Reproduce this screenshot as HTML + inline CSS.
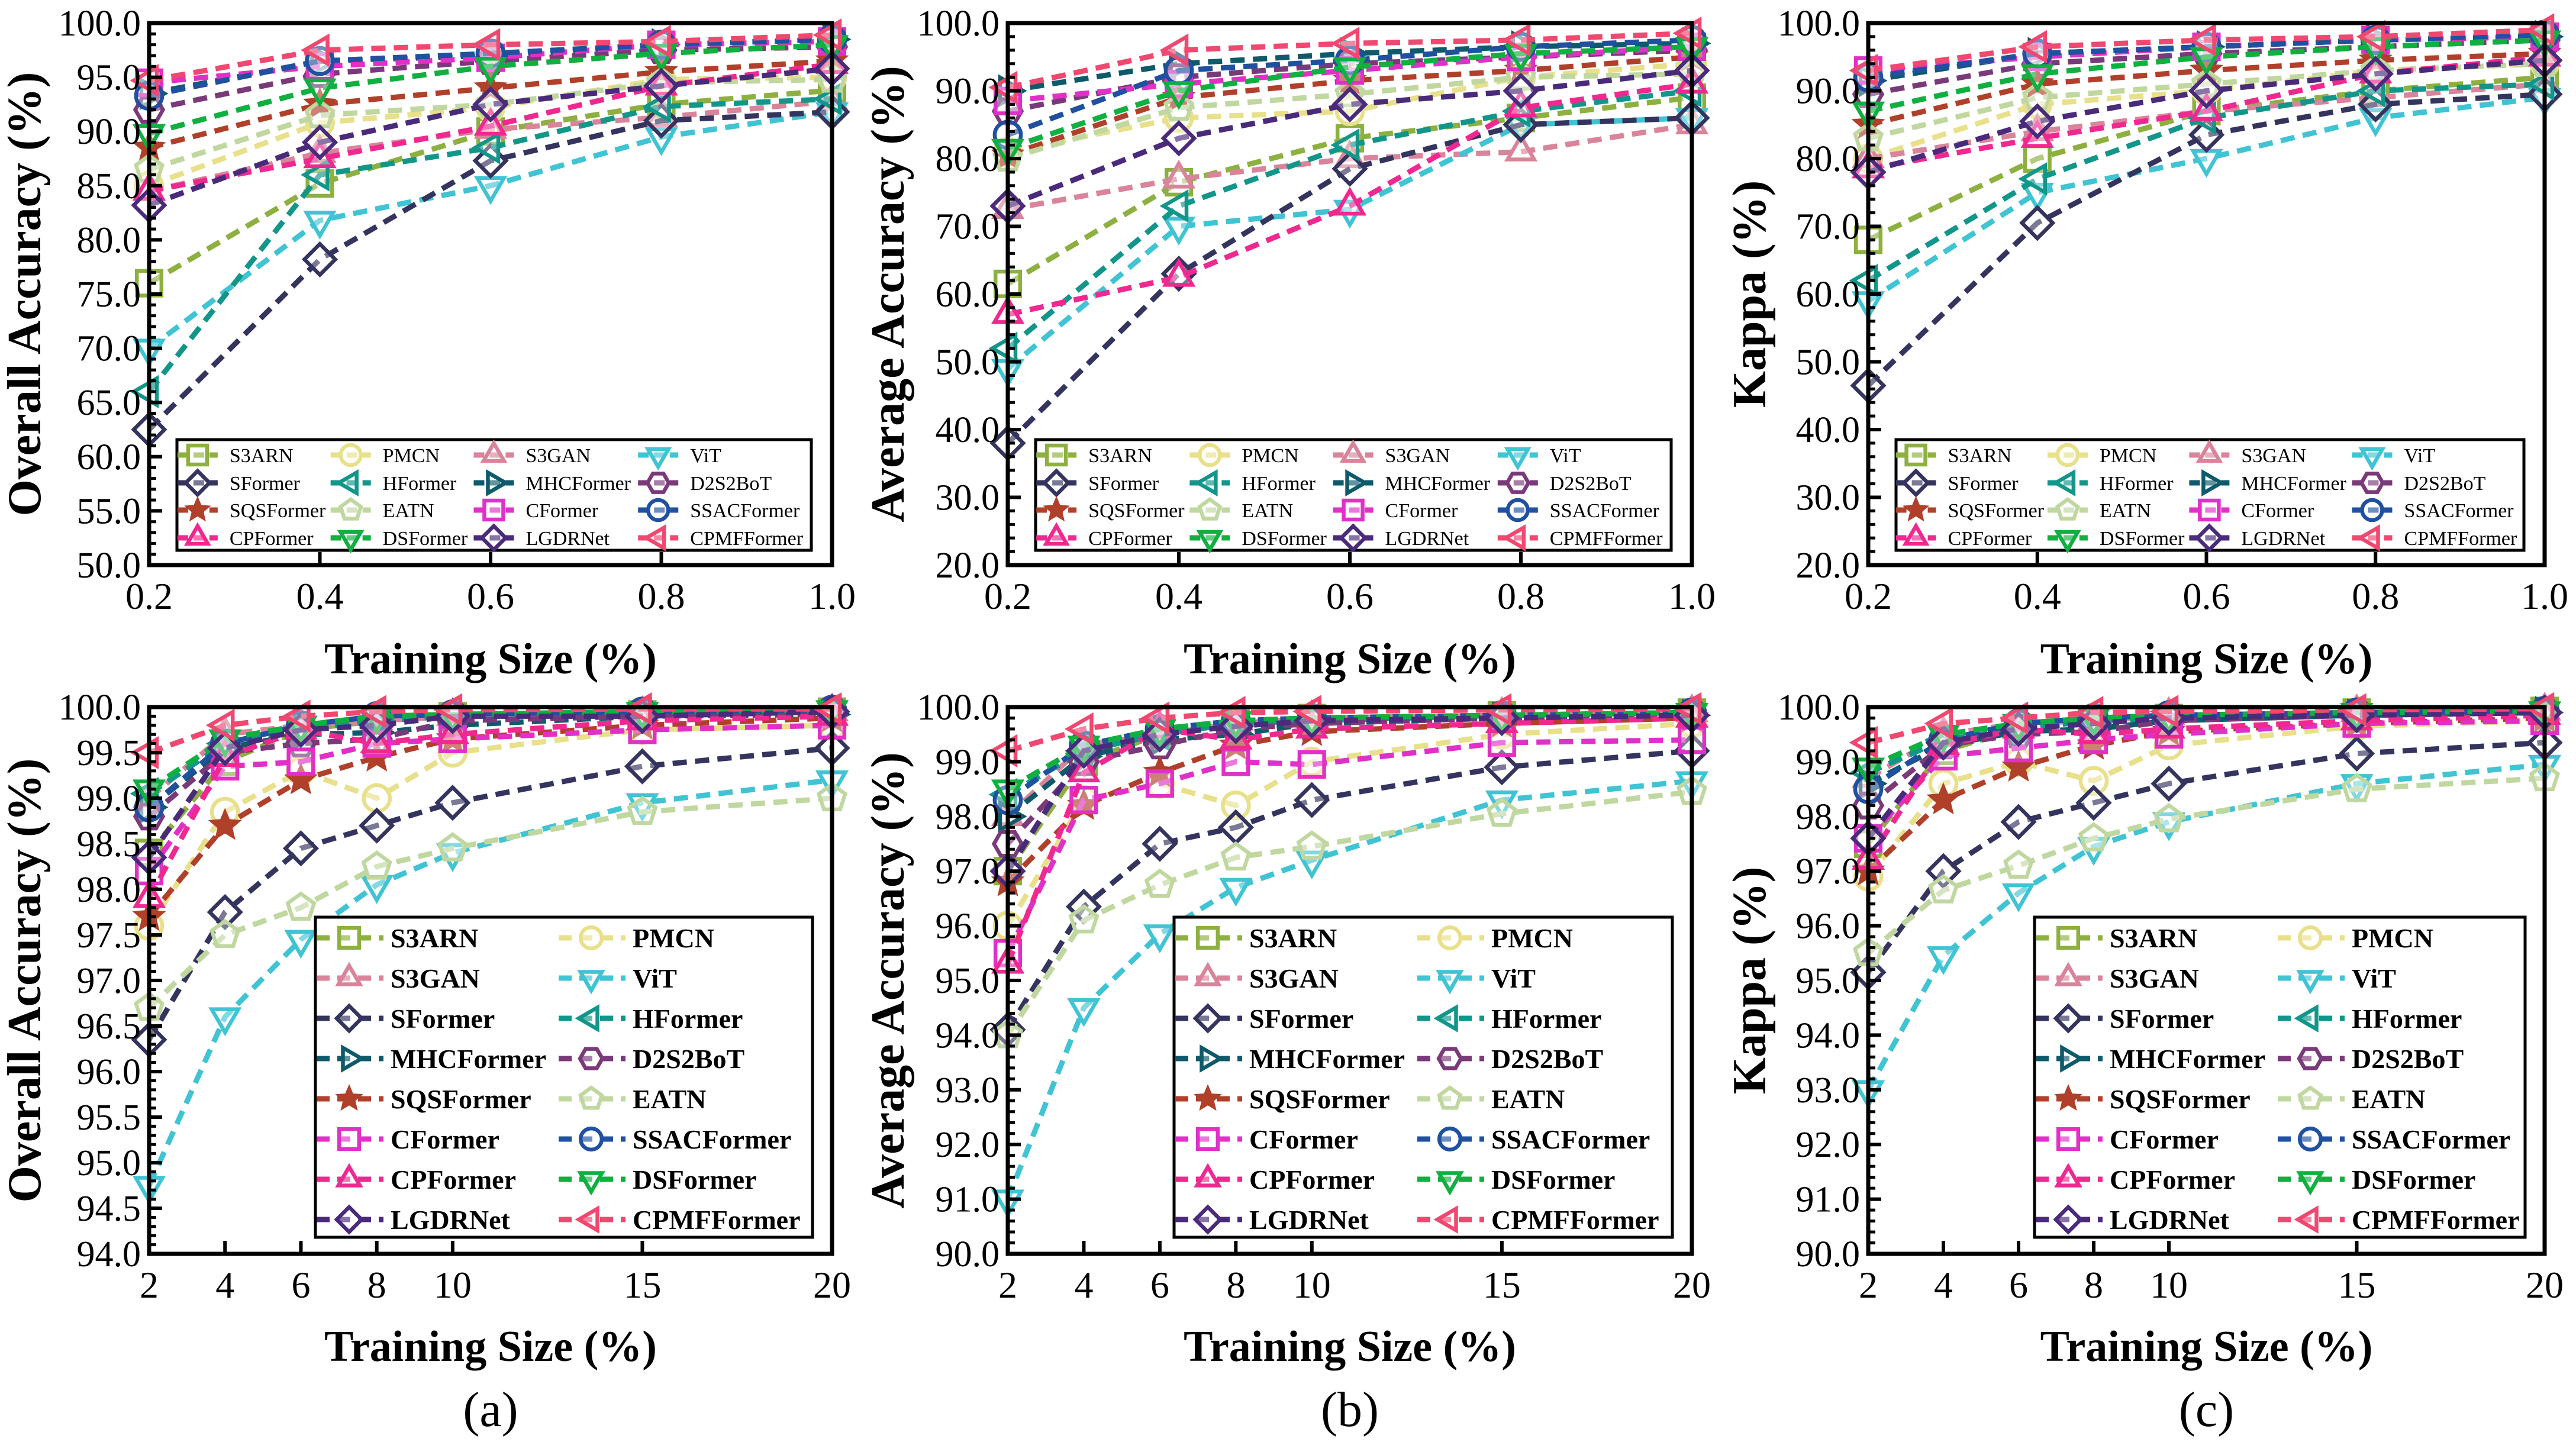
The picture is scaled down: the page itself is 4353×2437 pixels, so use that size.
<!DOCTYPE html>
<html><head><meta charset="utf-8"><style>
html,body{margin:0;padding:0;background:#fff;}
svg{display:block;}
text{font-family:"Liberation Serif","Times New Roman",Times,serif;}
</style></head><body>
<svg id="fig" width="4353" height="2437" viewBox="0 0 4353 2437" xmlns="http://www.w3.org/2000/svg"></svg>
<script>
const names=["S3ARN","PMCN","S3GAN","ViT","SFormer","HFormer","MHCFormer","D2S2BoT","SQSFormer","EATN","CFormer","SSACFormer","CPFormer","DSFormer","LGDRNet","CPMFFormer"];
const colors=["#8db040","#e8e08a","#d9849a","#40c4d4","#34345e","#12968a","#0e5a6a","#7a3a7a","#b0402a","#c0d8a0","#e030c8","#2050a0","#f02890","#10b040","#4a2a7a","#f04870"];
const markers=["square","circle","tri-up","tri-down","diamond","tri-left","tri-right","hexagon","star","pentagon","square","circle","tri-up","tri-down","diamond","tri-left"];
const xTop=[0.2,0.4,0.6,0.8,1.0];
const xBot=[2,4,6,8,10,15,20];
const oaTop=[[76,85.2,90,92.5,93.8],[85,90.8,92.2,94.8,95],[84.5,88,90.2,91.3,92.8],[70,81.8,85,89.5,91.8],[62.5,78.2,87.3,91,91.8],[66,86,88.5,92.3,93],[93.5,96.5,97,98,98.5],[92,95.3,96.5,97.5,97.8],[88.5,92.5,94,95.5,96.5],[86.5,91.5,92.5,94.5,94.8],[94.5,96,96.8,98,98.3],[93.3,96.5,97.2,98,98.5],[84.5,87.5,90.5,94.2,96.2],[89.8,94,96,97.2,98],[83.2,89,92.5,94.2,95.8],[94.7,97.5,98,98.3,98.9]];
const aaTop=[[61.5,76.5,83,86,89],[81,86,87,92,94],[72.5,77,80,81,85],[49,70,72.5,85,86],[38,63,78.5,85,86],[52,73,82,87,90],[90,94,95.5,96.5,97],[87,92,94,95,96],[80.5,89,91.5,93,95],[80,87.5,89.5,92,92.5],[88.5,91,93,95,96.5],[83.5,93,94.5,96.5,97.5],[57,62.5,73,87.5,91],[81.5,90,93.5,95.5,96.5],[73,83,88,90,93],[90.5,96,97,97.5,98.5]];
const kaTop=[[68,80,87,90,92],[80,88,90,93,94],[80,84,87,89,91],[59,75,80,86,89],[46.5,70.5,83.5,88,89.5],[62,77,86,90,91],[91.5,95.5,96.5,97.5,98],[89.5,94,95.5,96.5,97.5],[85,91,93,94.5,95.5],[83,89,91,93,94],[93,95,96.5,97.5,98],[92,95.5,96.5,97.5,98.3],[78.5,83,87,92.5,95],[87,92.5,95,96.5,97.5],[78,85.5,90,92.5,94.5],[93,96.5,97.5,98,99]];
const oaBot=[[98.4,99.4,99.75,99.85,99.9,99.92,99.95],[97.6,98.85,99.3,99.0,99.5,99.75,99.8],[99.0,99.7,99.8,99.85,99.9,99.92,99.95],[94.75,96.6,97.45,98.05,98.4,98.95,99.2],[96.35,97.75,98.45,98.7,98.95,99.35,99.55],[99.05,99.6,99.75,99.85,99.9,99.92,99.95],[98.9,99.55,99.7,99.72,99.8,99.9,99.92],[98.8,99.5,99.6,99.65,99.85,99.9,99.92],[97.7,98.7,99.2,99.45,99.65,99.8,99.88],[96.7,97.5,97.8,98.25,98.45,98.85,99.0],[98.2,99.35,99.4,99.6,99.65,99.75,99.8],[98.9,99.6,99.8,99.9,99.92,99.95,99.97],[97.9,99.45,99.75,99.6,99.7,99.85,99.9],[99.1,99.65,99.8,99.9,99.92,99.95,99.97],[98.35,99.55,99.75,99.8,99.9,99.9,99.95],[99.5,99.8,99.9,99.95,99.97,99.98,99.98]];
const aaBot=[[97.0,99.0,99.5,99.7,99.8,99.85,99.9],[96.0,98.3,98.6,98.2,99.0,99.5,99.7],[98.0,99.3,99.5,99.7,99.8,99.85,99.9],[91.0,94.5,95.85,96.7,97.2,98.3,98.65],[94.1,96.35,97.5,97.8,98.3,98.9,99.2],[98.4,99.2,99.5,99.7,99.75,99.85,99.9],[98.0,99.1,99.4,99.5,99.7,99.8,99.85],[97.5,99.0,99.3,99.6,99.7,99.8,99.85],[96.8,98.2,98.8,99.3,99.55,99.7,99.8],[94.0,96.1,96.75,97.25,97.45,98.05,98.45],[95.5,98.3,98.6,99.0,98.95,99.35,99.4],[98.3,99.3,99.6,99.75,99.8,99.85,99.9],[95.3,98.8,99.6,99.4,99.6,99.7,99.8],[98.5,99.3,99.6,99.75,99.8,99.85,99.9],[97.0,99.2,99.5,99.65,99.75,99.8,99.85],[99.2,99.6,99.8,99.9,99.92,99.95,99.97]];
const kaBot=[[97.5,99.2,99.6,99.7,99.8,99.9,99.93],[96.9,98.6,99.0,98.65,99.3,99.65,99.75],[98.7,99.5,99.7,99.75,99.85,99.9,99.93],[93.0,95.45,96.6,97.45,97.9,98.6,98.95],[95.15,97.0,97.9,98.25,98.6,99.15,99.35],[98.8,99.4,99.6,99.75,99.8,99.85,99.9],[98.6,99.3,99.55,99.6,99.75,99.85,99.9],[98.2,99.3,99.5,99.55,99.75,99.85,99.9],[97.0,98.3,98.9,99.3,99.55,99.7,99.8],[95.5,96.65,97.1,97.6,97.95,98.5,98.7],[97.6,99.1,99.25,99.4,99.5,99.7,99.75],[98.5,99.4,99.7,99.8,99.85,99.9,99.93],[97.2,99.3,99.6,99.5,99.6,99.75,99.85],[98.9,99.5,99.7,99.8,99.85,99.9,99.93],[97.6,99.35,99.6,99.7,99.8,99.85,99.9],[99.35,99.7,99.8,99.9,99.92,99.95,99.97]];
const topLegendOrder=[0,1,2,3,4,5,6,7,8,9,10,11,12,13,14,15];
const botLegendOrder=[0,2,4,6,8,10,12,14,1,3,5,7,9,11,13,15];

const NS="http://www.w3.org/2000/svg";
const FF='"Liberation Serif", "Times New Roman", Times, serif';
const svg=document.getElementById("fig");
function mk(tag,attrs,parent){const e=document.createElementNS(NS,tag);for(const k in attrs)e.setAttribute(k,attrs[k]);(parent||svg).appendChild(e);return e;}
function txt(s,attrs,parent){attrs["font-family"]=FF;const e=mk("text",attrs,parent);e.textContent=s;return e;}

function marker(g,type,cx,cy,r,col){
  let el;const sw=6.5;
  const poly=(pts)=>mk("polygon",{points:pts.map(p=>p.join(",")).join(" "),fill:"#fff","fill-opacity":"0.35",stroke:col,"stroke-width":sw},g);
  const reg=(n,rot,rr)=>{const p=[];for(let i=0;i<n;i++){const a=rot+i*2*Math.PI/n;p.push([cx+rr*Math.cos(a),cy+rr*Math.sin(a)]);}return p;};
  if(type==="square")el=mk("rect",{x:cx-r*0.8,y:cy-r*0.8,width:r*1.6,height:r*1.6,fill:"#fff","fill-opacity":"0.35",stroke:col,"stroke-width":sw},g);
  else if(type==="circle")el=mk("circle",{cx:cx,cy:cy,r:r*0.85,fill:"#fff","fill-opacity":"0.35",stroke:col,"stroke-width":sw},g);
  else if(type==="tri-up")el=poly(reg(3,-Math.PI/2,r));
  else if(type==="tri-down")el=poly(reg(3,Math.PI/2,r));
  else if(type==="tri-left")el=poly(reg(3,Math.PI,r));
  else if(type==="tri-right")el=poly(reg(3,0,r));
  else if(type==="diamond")el=poly(reg(4,0,r));
  else if(type==="hexagon")el=poly(reg(6,0,r*0.9));
  else if(type==="pentagon")el=poly(reg(5,-Math.PI/2,r*0.9));
  else if(type==="star"){const p=[];for(let i=0;i<10;i++){const a=-Math.PI/2+i*Math.PI/5;const rr=i%2?r*0.45:r;p.push([cx+rr*Math.cos(a),cy+rr*Math.sin(a)]);}el=mk("polygon",{points:p.map(q=>q.join(",")).join(" "),fill:col,stroke:col,"stroke-width":3},g);}
  return el;
}

function panel(opt){
  const {id,L,R,T,B,xs,xmin,xmax,xticks,xlabels,ymin,ymax,ystep,yminor,data,ytitle,ytitleX,xtitleY,legend}=opt;
  const g=mk("g",{});
  
  
  const sx=v=>L+(v-xmin)/(xmax-xmin)*(R-L);
  const sy=v=>B-(v-ymin)/(ymax-ymin)*(B-T);
  const sg=mk("g",{},g);
  
  
  data.forEach((vals,si)=>{
    const pts=vals.map((v,i)=>[sx(xs[i]),sy(v)]);
    const ln=mk("polyline",{points:pts.map(p=>p.join(",")).join(" "),fill:"none",stroke:colors[si],"stroke-width":9,"stroke-dasharray":"24,14"},sg);
    
    
    pts.forEach(p=>{const m=marker(sg,markers[si],p[0],p[1],26,colors[si]);
      
      });
  });
  const fr=mk("rect",{x:L,y:T,width:R-L,height:B-T,fill:"none",stroke:"#000","stroke-width":7},g);
  
  
  const nMaj=Math.round((ymax-ymin)/ystep);
  for(let i=0;i<=nMaj;i++){
    const v=ymin+i*ystep;const y=sy(v);
    mk("line",{x1:L,y1:y,x2:L+22,y2:y,stroke:"#000","stroke-width":6},g);
    const t=txt(v.toFixed(1),{x:L-14,y:y+21,"font-size":62,"text-anchor":"end"},g);
    
    
    if(i<nMaj)for(let k=1;k<yminor;k++){const yy=sy(v+k*ystep/yminor);mk("line",{x1:L,y1:yy,x2:L+12,y2:yy,stroke:"#000","stroke-width":5},g);}
  }
  xticks.forEach((v,i)=>{
    const x=sx(v);
    mk("line",{x1:x,y1:B,x2:x,y2:B-22,stroke:"#000","stroke-width":6},g);
    const t=txt(xlabels[i],{x:x,y:B+74,"font-size":64,"text-anchor":"middle"},g);
    
    
  });
  const yt=txt(ytitle,{x:0,y:0,"font-size":80,"font-weight":"bold","text-anchor":"middle",transform:`translate(${ytitleX},${(T+B)/2}) rotate(-90)`},g);
  
  
  const xt=txt("Training Size (%)",{x:(L+R)/2,y:xtitleY,"font-size":74,"font-weight":"bold","text-anchor":"middle"},g);
  
  
  const lg=mk("g",{},g);
  
  
  if(legend==="top"){
    mk("rect",{x:L+47,y:743,width:(R-L)-47-35,height:187,fill:"#fff",stroke:"#000","stroke-width":5},lg);
    const colX=[136,395,637,915].map(v=>L+v*(R-L)/1155);
    const rowY=[769,816,862,909];
    topLegendOrder.forEach((si,k)=>{
      const c=k%4,r=Math.floor(k/4);const tx=colX[c],ty=rowY[r];
      const e=mk("g",{},lg);
      
      
      mk("line",{x1:tx-88,y1:ty,x2:tx-20,y2:ty,stroke:colors[si],"stroke-width":9,"stroke-dasharray":"18,9"},e);
      marker(e,markers[si],tx-54,ty,20,colors[si]);
      txt(names[si],{x:tx,y:ty+12,"font-size":34},e);
    });
  } else {
    mk("rect",{x:L+281,y:1550,width:(R-L)-281-33,height:541,fill:"#fff",stroke:"#000","stroke-width":5},lg);
    const colX=[L+408,L+817];
    botLegendOrder.forEach((si,k)=>{
      const c=k<8?0:1,r=k%8;const tx=colX[c],ty=1585+r*68;
      const e=mk("g",{},lg);
      
      
      mk("line",{x1:tx-125,y1:ty,x2:tx-12,y2:ty,stroke:colors[si],"stroke-width":9,"stroke-dasharray":"22,13"},e);
      marker(e,markers[si],tx-70,ty,21,colors[si]);
      txt(names[si],{x:tx,y:ty+16,"font-size":46,"font-weight":"bold"},e);
    });
  }
}
const cols=[[252,1406],[1703,2859],[3157,4300]];
const topX=[0.2,0.4,0.6,0.8,1.0],topXL=["0.2","0.4","0.6","0.8","1.0"];
const botX=[2,4,6,8,10,15,20],botXL=["2","4","6","8","10","15","20"];
panel({id:"top-oa",L:cols[0][0],R:cols[0][1],T:39,B:955,xs:xTop,xmin:0.2,xmax:1.0,xticks:topX,xlabels:topXL,ymin:50,ymax:100,ystep:5,yminor:5,data:oaTop,ytitle:"Overall Accuracy (%)",ytitleX:68,xtitleY:1138,legend:"top"});
panel({id:"top-aa",L:cols[1][0],R:cols[1][1],T:39,B:955,xs:xTop,xmin:0.2,xmax:1.0,xticks:topX,xlabels:topXL,ymin:20,ymax:100,ystep:10,yminor:5,data:aaTop,ytitle:"Average Accuracy (%)",ytitleX:1527,xtitleY:1138,legend:"top"});
panel({id:"top-kappa",L:cols[2][0],R:cols[2][1],T:39,B:955,xs:xTop,xmin:0.2,xmax:1.0,xticks:topX,xlabels:topXL,ymin:20,ymax:100,ystep:10,yminor:5,data:kaTop,ytitle:"Kappa (%)",ytitleX:2983,xtitleY:1138,legend:"top"});
panel({id:"bottom-oa",L:cols[0][0],R:cols[0][1],T:1195,B:2119,xs:xBot,xmin:2,xmax:20,xticks:botX,xlabels:botXL,ymin:94,ymax:100,ystep:0.5,yminor:5,data:oaBot,ytitle:"Overall Accuracy (%)",ytitleX:68,xtitleY:2300,legend:"bottom"});
panel({id:"bottom-aa",L:cols[1][0],R:cols[1][1],T:1195,B:2119,xs:xBot,xmin:2,xmax:20,xticks:botX,xlabels:botXL,ymin:90,ymax:100,ystep:1,yminor:5,data:aaBot,ytitle:"Average Accuracy (%)",ytitleX:1527,xtitleY:2300,legend:"bottom"});
panel({id:"bottom-kappa",L:cols[2][0],R:cols[2][1],T:1195,B:2119,xs:xBot,xmin:2,xmax:20,xticks:botX,xlabels:botXL,ymin:90,ymax:100,ystep:1,yminor:5,data:kaBot,ytitle:"Kappa (%)",ytitleX:2983,xtitleY:2300,legend:"bottom"});
["(a)","(b)","(c)"].forEach((s,i)=>{
  const t=txt(s,{x:(cols[i][0]+cols[i][1])/2,y:2410,"font-size":84,"text-anchor":"middle"});
  
  
});
</script>
</body></html>
